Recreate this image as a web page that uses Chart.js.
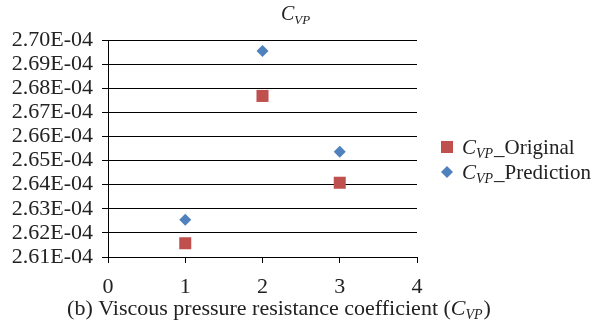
<!DOCTYPE html>
<html>
<head>
<meta charset="utf-8">
<script src="https://cdn.jsdelivr.net/npm/chart.js@4.4.0/dist/chart.umd.min.js"></script>
<style>
  html, body { margin: 0; padding: 0; background: #fff; }
  #wrap { width: 598px; height: 329px; }
</style>
</head>
<body>
<div id="wrap"><canvas id="cvp"></canvas></div>
<script>
// values
const caseIds = [1, 2, 3];
const originalValues = [2.6157e-4, 2.6768e-4, 2.6408e-4];
const predictionValues = [2.6254e-4, 2.6954e-4, 2.6537e-4];
const seriesNames = ['_Original', '_Prediction'];

const serif = '"Liberation Serif", "Times New Roman", serif';

// draws "C" + subscript "VP" + rest, returns end x
function drawCvp(ctx, x, y, size, before, after) {
    ctx.textBaseline = 'alphabetic';
    ctx.textAlign = 'left';
    ctx.font = size + 'px ' + serif;
    if (before) { ctx.fillText(before, x, y); x += ctx.measureText(before).width; }
    ctx.font = 'italic ' + size + 'px ' + serif;
    ctx.fillText('C', x, y); x += ctx.measureText('C').width;
    const sub = Math.round(size * 0.65);
    ctx.font = 'italic ' + sub + 'px ' + serif;
    ctx.fillText('VP', x, y + size * 0.18); x += ctx.measureText('VP').width + 1;
    ctx.font = size + 'px ' + serif;
    if (after) { ctx.fillText(after, x, y); x += ctx.measureText(after).width; }
    return x;
}
function cvpWidth(ctx, size, before, after) {
    let w = 0;
    ctx.font = size + 'px ' + serif;
    if (before) w += ctx.measureText(before).width;
    if (after) w += ctx.measureText(after).width;
    ctx.font = 'italic ' + size + 'px ' + serif;
    w += ctx.measureText('C').width;
    ctx.font = 'italic ' + Math.round(size * 0.65) + 'px ' + serif;
    w += ctx.measureText('VP').width + 1;
    return w;
}

const textPlugin = {
    id: 'cvpText',
    afterDraw(chart) {
        const ctx = chart.ctx;
        ctx.save();
        ctx.fillStyle = '#222';
        // title
        drawCvp(ctx, 281, 20, 20, '', '');
        // x axis caption
        const cap = '(b) Viscous pressure resistance coefficient (';
        const w = cvpWidth(ctx, 22, cap, ')');
        drawCvp(ctx, 279 - w / 2, 315, 22, cap, ')');
        // legend
        const ds = chart.data.datasets;
        const rows = [147, 172];
        ds.forEach((d, i) => {
            ctx.fillStyle = d.backgroundColor;
            if (d.pointStyle === 'rect') {
                ctx.fillRect(441, rows[i] - 6, 12, 12);
            } else {
                ctx.beginPath();
                ctx.moveTo(447, rows[i] - 6);
                ctx.lineTo(453, rows[i]);
                ctx.lineTo(447, rows[i] + 6);
                ctx.lineTo(441, rows[i]);
                ctx.closePath();
                ctx.fill();
            }
            ctx.fillStyle = '#222';
            drawCvp(ctx, 462, rows[i] + 7, 21, '', seriesNames[i]);
        });
        ctx.restore();
    }
};

new Chart(document.getElementById('cvp'), {
    type: 'scatter',
    data: {
        datasets: [{
            label: 'CVP_Original',
            data: caseIds.map((x, i) => ({ x: x, y: originalValues[i] })),
            backgroundColor: '#C0504D',
            borderColor: '#C0504D',
            pointStyle: 'rect',
            pointRadius: 8.5,
            pointBorderWidth: 0
        }, {
            label: 'CVP_Prediction',
            data: caseIds.map((x, i) => ({ x: x, y: predictionValues[i] })),
            backgroundColor: '#4F81BD',
            borderColor: '#4F81BD',
            pointStyle: 'rectRot',
            pointRadius: 6,
            pointBorderWidth: 0
        }]
    },
    options: {
        responsive: true,
        maintainAspectRatio: false,
        animation: false,
        layout: { padding: { left: 0, top: 40, right: 181, bottom: 0 } },
        plugins: {
            legend: { display: false },
            tooltip: { enabled: false }
        },
        scales: {
            x: {
                type: 'linear',
                min: 0,
                max: 4,
                afterFit: s => { s.height = 72; },
                ticks: {
                    stepSize: 1,
                    color: '#222',
                    padding: 11,
                    font: { family: serif, size: 22 }
                },
                grid: { drawOnChartArea: false, color: '#000', tickLength: 6 },
                border: { color: '#000' }
            },
            y: {
                min: 2.61e-4,
                max: 2.70e-4,
                afterFit: s => { s.width = 108; },
                ticks: {
                    count: 10,
                    autoSkip: false,
                    color: '#222',
                    padding: 9,
                    font: { family: serif, size: 22 },
                    callback: v => (v * 1e4).toFixed(2) + 'E-04'
                },
                grid: { color: '#000', tickLength: 6 },
                border: { color: '#000' }
            }
        }
    },
    plugins: [textPlugin]
});
</script>
</body>
</html>
